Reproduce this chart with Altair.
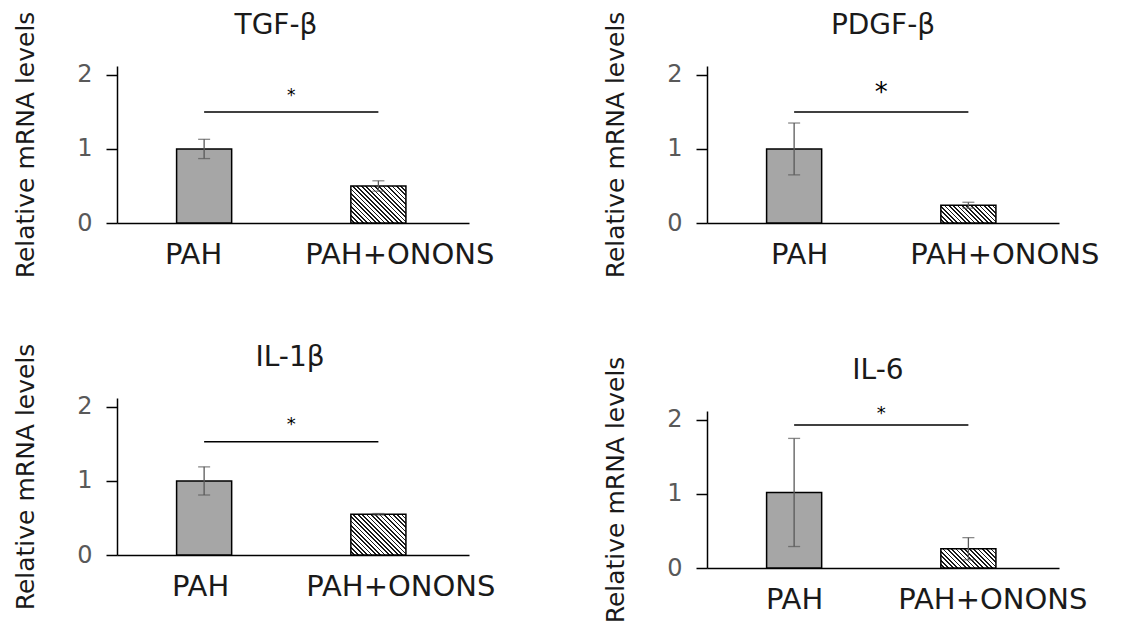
import math
import json
import altair as alt
import pandas as pd

# ---------------- data ----------------
panel_titles = ["TGF-β", "PDGF-β", "IL-1β", "IL-6"]
groups = ["PAH", "PAH+ONONS"]
pah_mean = [1.00, 1.00, 1.00, 1.02]
pah_sd = [0.13, 0.35, 0.19, 0.73]
onons_mean = [0.50, 0.24, 0.55, 0.26]
onons_sd = [0.07, 0.04, 0.01, 0.15]
sig_y = [1.50, 1.50, 1.53, 1.93]
star_y = [1.71, 1.75, 1.76, 2.08]
star_label = ["*", "*", "*", "*"]
y_title = "Relative mRNA levels"

# ---------------- style ----------------
FONT = "DejaVu Sans"
W, H = 352, 157
XDOM = [-0.5, 1.52]
YMAX = 2.12
HALF = 0.158
star_size = [17, 26, 18, 18]
label_shift_pah = [-11, 5, -4, 0]
label_shift_onons = [21, 36, 22, 24]
title_dx = [-17, 0, -3, -5]


def hatch_fill(w_px, h_px, pitch=3.1, line=1.2):
    span = (w_px + h_px) / math.sqrt(2)
    t = (w_px + h_px) / (w_px ** 2 + h_px ** 2)
    f = pitch / span
    lf = line / span
    stops = []
    k = 0
    while k * f < 1:
        s = k * f
        b = min(s + f - lf, 1.0)
        e = min(s + f, 1.0)
        stops += [(s, "#ffffff"), (b, "#ffffff"), (b, "#1a1a1a"), (e, "#1a1a1a")]
        k += 1
    return alt.LinearGradient(
        gradient="linear",
        stops=[alt.GradientStop(offset=float(o), color=c) for o, c in stops],
        x1=0, y1=1, x2=float(t * w_px), y2=float(1 - t * h_px),
    )


def panel(i):
    bars = pd.DataFrame({
        "idx": [0, 1],
        "group": groups,
        "mean": [pah_mean[i], onons_mean[i]],
        "sd": [pah_sd[i], onons_sd[i]],
    })
    bars["lo"] = bars["mean"] - bars["sd"]
    bars["hi"] = bars["mean"] + bars["sd"]
    bars["left"] = bars["idx"] - HALF
    bars["right"] = bars["idx"] + HALF

    xs = alt.Scale(domain=XDOM, nice=False, zero=False)
    ys = alt.Scale(domain=[0, YMAX], nice=False)
    x_axis = alt.Axis(values=[0, 1], labelExpr=f"{json.dumps(groups)}[round(datum.value)]",
                      ticks=False, grid=False, title=None, domainColor="#000", domainWidth=1.5,
                      labelFontSize=29, labelColor="#1a1a1a", labelPadding=17, labelLimit=0,
                      labelOffset={"condition": {"test": "datum.value < 0.5",
                                                 "value": label_shift_pah[i]},
                                   "value": label_shift_onons[i]},
                      labelOverlap=False, labelFlush=False, labelFont=FONT)
    y_axis = alt.Axis(tickCount=3, format="d", grid=False, tickSize=11, tickColor="#000",
                      tickWidth=1.5, domainColor="#000", domainWidth=1.5, labelFontSize=24,
                      labelColor="#595959", labelPadding=14, labelFont=FONT,
                      labelOverlap=False, labelFlush=False,
                      title=y_title, titleFontSize=25, titleFontWeight="normal",
                      titleColor="#1a1a1a", titlePadding=38, titleFont=FONT)

    base = alt.Chart(bars)
    w_px = 2 * HALF * W / (XDOM[1] - XDOM[0])
    h_px = onons_mean[i] * H / YMAX

    pah_bar = base.transform_filter("datum.idx == 0").mark_bar(
        fill="#a6a6a6", stroke="#000", strokeWidth=1.5
    ).encode(
        x=alt.X("left:Q", scale=xs, axis=x_axis), x2="right:Q",
        y=alt.Y("mean:Q", scale=ys, axis=y_axis), y2=alt.datum(0),
    )
    onons_bar = base.transform_filter("datum.idx == 1").mark_bar(
        fill=hatch_fill(w_px, h_px), stroke="#000", strokeWidth=1.5
    ).encode(
        x=alt.X("left:Q", scale=xs, axis=x_axis), x2="right:Q",
        y=alt.Y("mean:Q", scale=ys, axis=y_axis), y2=alt.datum(0),
    )
    err = base.mark_rule(color="#595959", strokeWidth=1.3).encode(
        x=alt.X("idx:Q", scale=xs, axis=x_axis),
        y=alt.Y("lo:Q", scale=ys, axis=y_axis), y2="hi:Q",
    )
    cap_hi = base.mark_tick(orient="horizontal", size=12, thickness=1.3, color="#595959").encode(
        x=alt.X("idx:Q", scale=xs, axis=x_axis), y=alt.Y("hi:Q", scale=ys, axis=y_axis),
    )
    cap_lo = base.mark_tick(orient="horizontal", size=12, thickness=1.3, color="#595959").encode(
        x=alt.X("idx:Q", scale=xs, axis=x_axis), y=alt.Y("lo:Q", scale=ys, axis=y_axis),
    )
    sig_df = pd.DataFrame({"x0": [0], "x1": [1], "y": [sig_y[i]]})
    sig = alt.Chart(sig_df).mark_rule(color="#000", strokeWidth=1.5).encode(
        x=alt.X("x0:Q", scale=xs, axis=x_axis), x2="x1:Q",
        y=alt.Y("y:Q", scale=ys, axis=y_axis),
    )
    star_df = pd.DataFrame({"x": [0.5], "y": [star_y[i]], "t": [star_label[i]]})
    star = alt.Chart(star_df).mark_text(
        fontSize=star_size[i], baseline="middle", align="center", font=FONT, color="#000"
    ).encode(
        x=alt.X("x:Q", scale=xs, axis=x_axis), y=alt.Y("y:Q", scale=ys, axis=y_axis), text="t:N",
    )
    return alt.layer(pah_bar, onons_bar, err, cap_hi, cap_lo, sig, star).properties(
        width=W, height=H,
        title=alt.TitleParams(text=panel_titles[i], fontSize=28, fontWeight="normal", font=FONT,
                              color="#1a1a1a", anchor="middle", frame="group", offset=-29,
                              dx=title_dx[i]),
    )


left = alt.vconcat(panel(0), panel(2), spacing=65)
right = alt.vconcat(panel(1), panel(3), spacing=78)
chart = alt.hconcat(left, right, spacing=108).properties(
    padding={"left": 5, "top": 3, "right": 5, "bottom": 5}
).configure(font=FONT).configure_view(stroke="transparent", strokeWidth=0)

chart.save("out.html", embed_options={"renderer": "svg", "actions": False})
